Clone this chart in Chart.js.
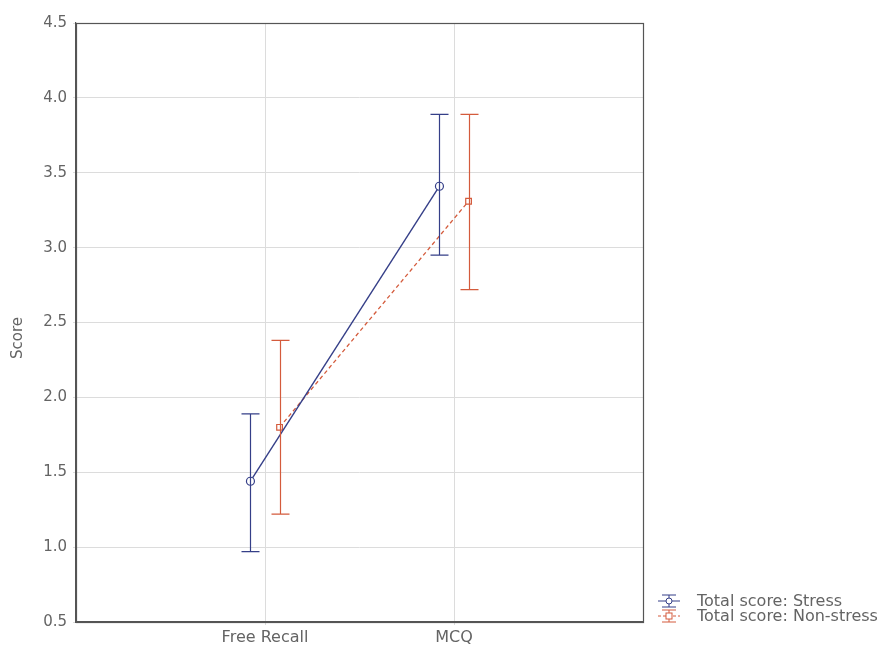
<!DOCTYPE html>
<html><head><meta charset="utf-8">
<script src="https://cdn.jsdelivr.net/npm/chart.js@4/dist/chart.umd.min.js"></script>
<style>html,body{margin:0;padding:0;background:#fff}#wrap{width:892px;height:651px;position:relative}</style>
</head><body><div id="wrap"><canvas id="c" width="892" height="651"></canvas></div>
<script>
const categories = ["Free Recall", "MCQ"];
const seriesNames = ["Total score: Stress", "Total score: Non-stress"];
const stressMean = [1.44, 3.41];
const stressLow = [0.97, 2.95];
const stressHigh = [1.89, 3.89];
const nonStressMean = [1.80, 3.31];
const nonStressLow = [1.22, 2.72];
const nonStressHigh = [2.38, 3.89];
const yTicks = [0.5, 1.0, 1.5, 2.0, 2.5, 3.0, 3.5, 4.0, 4.5];
const yTitle = "Score";

const STRESS_COLOR = '#353f88';
const NONSTRESS_COLOR = '#d45b3c';
const TEXT_COLOR = '#646464';
const FONT_FAMILY = '"DejaVu Sans", Verdana, sans-serif';
const OFFSET = 0.077;

function pts(means, off){ return means.map((m,i)=>({x:i+1+off, y:m})); }

const errorBars = {
  id:'errorBars',
  afterDatasetsDraw(chart){
    const ctx = chart.ctx, xs = chart.scales.x, ys = chart.scales.y;
    const sets = [[stressLow, stressHigh, -OFFSET, STRESS_COLOR],[nonStressLow, nonStressHigh, OFFSET, NONSTRESS_COLOR]];
    ctx.save();
    sets.forEach(([lo,hi,off,col])=>{
      ctx.strokeStyle = col; ctx.lineWidth = 1.2; ctx.setLineDash([]);
      lo.forEach((l,i)=>{
        const x = Math.round(xs.getPixelForValue(i+1+off))+0.5;
        const y1 = ys.getPixelForValue(l), y2 = ys.getPixelForValue(hi[i]);
        ctx.beginPath();
        ctx.moveTo(x,y1); ctx.lineTo(x,y2);
        ctx.moveTo(x-9,y1); ctx.lineTo(x+9,y1);
        ctx.moveTo(x-9,y2); ctx.lineTo(x+9,y2);
        ctx.stroke();
      });
    });
    ctx.restore();
  },
  afterDraw(chart){
    const ctx = chart.ctx, a = chart.chartArea;
    ctx.save();
    ctx.strokeStyle = '#555'; ctx.lineWidth = 1.2;
    ctx.strokeRect(Math.round(a.left)+0.5, Math.round(a.top)+0.5, Math.round(a.right-a.left), Math.round(a.bottom-a.top));
    // y title
    ctx.fillStyle = TEXT_COLOR;
    ctx.font = '15px ' + FONT_FAMILY;
    ctx.textAlign = 'center'; ctx.textBaseline = 'middle';
    ctx.translate(18, 338); ctx.rotate(-Math.PI/2);
    ctx.fillText(yTitle, 0, 0);
    ctx.setTransform(1,0,0,1,0,0);
    // legend
    const items = [[seriesNames[0], STRESS_COLOR, false, 'circle'],[seriesNames[1], NONSTRESS_COLOR, true, 'rect']];
    ctx.font = '16px ' + FONT_FAMILY;
    ctx.textAlign = 'left'; ctx.textBaseline = 'middle';
    items.forEach(([t,col,dash,shape],k)=>{
      const cy = 601 + k*15, cx = 669;
      ctx.strokeStyle = col; ctx.lineWidth = 1;
      ctx.setLineDash(dash?[3,2]:[]);
      ctx.beginPath(); ctx.moveTo(cx-11,cy); ctx.lineTo(cx+11,cy); ctx.stroke();
      ctx.setLineDash([]);
      ctx.beginPath();
      ctx.moveTo(cx,cy-6); ctx.lineTo(cx,cy+6);
      ctx.moveTo(cx-7,cy-6); ctx.lineTo(cx+7,cy-6);
      ctx.moveTo(cx-7,cy+6); ctx.lineTo(cx+7,cy+6);
      ctx.stroke();
      ctx.fillStyle='#fff';
      if(shape==='circle'){ctx.beginPath();ctx.arc(cx,cy,3,0,Math.PI*2);ctx.fill();ctx.stroke();}
      else {ctx.fillRect(cx-3,cy-3,6,6);ctx.strokeRect(cx-3,cy-3,6,6);}
      ctx.fillStyle = TEXT_COLOR;
      ctx.fillText(t, 697, cy+1);
    });
    ctx.restore();
  }
};

new Chart(document.getElementById('c'), {
  type:'line',
  data:{datasets:[
    {label:seriesNames[0], data:pts(stressMean,-OFFSET), borderColor:STRESS_COLOR, borderWidth:1.4,
     pointStyle:'circle', pointRadius:4, pointBackgroundColor:'#fff', pointBorderColor:STRESS_COLOR, pointBorderWidth:1.2, tension:0},
    {label:seriesNames[1], data:pts(nonStressMean,OFFSET), borderColor:NONSTRESS_COLOR, borderWidth:1.3, borderDash:[4,3],
     pointStyle:'rect', pointRadius:4, pointBackgroundColor:'#fff', pointBorderColor:NONSTRESS_COLOR, pointBorderWidth:1.2, tension:0}
  ]},
  options:{
    responsive:false, animation:false, devicePixelRatio:1,
    layout:{padding:{top:23, right:249, left:0, bottom:0}},
    plugins:{legend:{display:false}, tooltip:{enabled:false}},
    scales:{
      x:{type:'linear', min:0, max:3,
        afterBuildTicks(s){ s.ticks = categories.map((c,i)=>({value:i+1})); },
        afterFit(s){ s.height = 29; },
        ticks:{callback:(v)=>categories[v-1], color:TEXT_COLOR, font:{family:FONT_FAMILY, size:16}, padding:3, maxRotation:0},
        grid:{color:'#dcdcdc', lineWidth:1, tickLength:3, drawTicks:true},
        border:{color:'#555', width:1.2}
      },
      y:{min:0.5, max:4.5,
        afterBuildTicks(s){ s.ticks = yTicks.map(v=>({value:v})); },
        afterFit(s){ s.width = 76; },
        ticks:{callback:(v)=>v.toFixed(1), color:TEXT_COLOR, font:{family:FONT_FAMILY, size:15}, padding:6},
        grid:{color:'#dcdcdc', lineWidth:1, tickLength:3},
        border:{color:'#555', width:1.2}
      }
    }
  },
  plugins:[errorBars]
});
</script></body></html>
